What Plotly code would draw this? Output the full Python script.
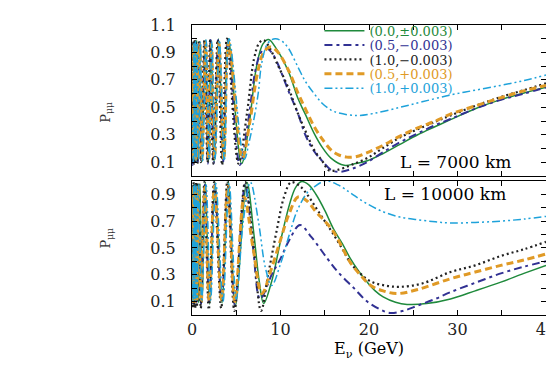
import plotly.graph_objects as go

# ---- L = 7000 km (top panel) ----
E_g7 = [0.05,0.12,0.2,0.28,0.36,0.44,0.52,0.68,0.86,1.1,1.5,1.85,2.15,2.5,3.0,3.55,4.1,5.6,6.4,7.3,8.0,8.65,9.6,10.9,12.0,12.8,13.8,14.7,15.7,17.2,18.5,19.8,21.5,23.5,25.5,27.5,29.2,32.0,34.9,37.5,40.0]
P_g7 = [0.55,0.10,0.98,0.12,0.97,0.10,0.99,0.11,0.98,0.10,0.99,0.10,0.99,0.10,1.00,0.10,1.00,0.09,0.35,0.80,0.96,0.995,0.92,0.76,0.56,0.45,0.31,0.21,0.13,0.077,0.09,0.11,0.16,0.23,0.30,0.36,0.41,0.49,0.556,0.605,0.647]

E_b7 = [0.05,0.1,0.18,0.26,0.34,0.42,0.5,0.66,0.84,1.05,1.45,1.8,2.1,2.45,2.95,3.5,4.05,5.4,6.3,7.2,7.8,8.4,9.0,9.6,10.9,12.0,12.8,13.8,14.7,15.8,16.8,18.0,19.8,21.5,23.5,25.5,27.5,29.2,32.0,34.9,37.5,40.0]
P_b7 = [0.5,0.08,0.97,0.1,0.98,0.09,0.97,0.1,0.98,0.1,0.98,0.09,0.99,0.09,0.99,0.1,0.99,0.08,0.38,0.78,0.9,0.93,0.9,0.83,0.62,0.45,0.30,0.18,0.11,0.04,0.03,0.05,0.10,0.17,0.245,0.31,0.37,0.415,0.49,0.555,0.60,0.645]

E_k7 = [0.05,0.08,0.15,0.22,0.3,0.38,0.46,0.6,0.8,1.0,1.4,1.75,2.05,2.4,2.9,3.4,3.95,5.25,6.2,7.0,7.6,8.1,8.8,9.6,10.9,12.0,12.8,13.8,14.7,15.5,16.5,18.0,19.8,21.5,23.5,25.5,27.5,29.2,32.0,34.9,37.5,40.0]
P_k7 = [0.6,0.1,0.98,0.09,0.99,0.1,0.98,0.09,0.99,0.1,0.99,0.1,0.99,0.09,0.99,0.08,1.0,0.09,0.45,0.85,0.97,0.99,0.93,0.82,0.64,0.45,0.33,0.19,0.11,0.04,0.045,0.08,0.13,0.20,0.28,0.34,0.395,0.44,0.51,0.575,0.625,0.675]

E_o7 = [0.05,0.13,0.2,0.28,0.37,0.45,0.55,0.7,0.9,1.15,1.55,1.9,2.2,2.55,3.05,3.6,4.15,5.7,6.5,7.4,8.1,8.8,9.6,10.9,12.0,12.8,13.8,14.7,15.7,16.5,17.5,18.5,19.8,21.5,23.5,25.5,27.5,29.2,32.0,34.9,37.5,40.0]
P_o7 = [0.5,0.12,0.95,0.13,0.96,0.12,0.95,0.13,0.96,0.12,0.97,0.12,0.96,0.13,0.97,0.12,0.97,0.13,0.38,0.75,0.9,0.94,0.91,0.77,0.60,0.49,0.36,0.27,0.19,0.155,0.137,0.14,0.17,0.22,0.29,0.35,0.40,0.45,0.51,0.57,0.62,0.66]

E_c7 = [0.05,0.15,0.22,0.3,0.4,0.48,0.58,0.75,0.95,1.2,1.6,1.95,2.25,2.6,3.1,3.65,4.2,5.9,6.5,7.1,7.5,7.9,8.6,9.4,10.2,10.9,12.0,12.8,13.8,14.7,15.7,16.5,18.6,20.5,23.5,26.0,29.2,32.0,34.9,37.5,40.0]
P_c7 = [0.45,0.1,0.97,0.12,0.98,0.11,0.97,0.12,0.98,0.11,0.99,0.12,0.98,0.12,0.99,0.11,1.0,0.12,0.26,0.45,0.61,0.83,0.97,1.0,0.98,0.93,0.79,0.69,0.60,0.53,0.48,0.46,0.44,0.455,0.50,0.54,0.59,0.625,0.66,0.695,0.735]

# ---- L = 10000 km (bottom panel) ----
E_g10 = [0.05,0.08,0.15,0.22,0.28,0.35,0.42,0.5,0.6,0.75,0.9,1.15,1.5,2.0,2.6,3.4,4.1,4.9,6.2,7.0,7.6,8.1,9.0,10.0,11.0,11.7,12.4,13.2,14.0,15.0,16.0,17.0,17.9,18.8,19.8,20.7,21.6,23.0,24.3,26.5,29.2,32.0,34.9,37.5,40.0]
P_g10 = [0.5,0.08,0.97,0.1,0.98,0.09,0.98,0.1,0.98,0.09,0.98,0.1,0.99,0.08,0.99,0.09,1.0,0.07,0.99,0.6,0.25,0.086,0.25,0.55,0.82,0.95,0.995,0.97,0.9,0.78,0.64,0.53,0.42,0.33,0.245,0.18,0.135,0.095,0.079,0.085,0.12,0.18,0.245,0.31,0.37]

E_b10 = [0.05,0.1,0.17,0.24,0.31,0.39,0.47,0.57,0.71,1.0,1.45,1.95,2.55,3.35,4.05,4.85,6.0,6.9,7.7,9.0,10.0,11.0,12.2,13.5,15.3,16.5,18.3,19.8,21.3,22.4,23.8,25.5,27.5,29.2,32.0,34.9,37.5,40.0]
P_b10 = [0.5,0.08,0.96,0.1,0.95,0.08,0.96,0.1,0.96,0.08,0.97,0.09,0.97,0.1,0.97,0.07,0.97,0.5,0.12,0.3,0.42,0.56,0.67,0.58,0.42,0.32,0.2,0.1,0.04,0.015,0.03,0.07,0.12,0.17,0.24,0.31,0.36,0.40]

E_k10 = [0.05,0.1,0.17,0.24,0.31,0.38,0.46,0.56,0.7,1.0,1.4,1.9,2.5,3.3,4.0,4.8,6.0,6.9,7.8,8.6,9.6,10.4,11.2,12.2,13.0,14.0,15.0,16.0,17.0,17.9,19.0,20.2,21.8,23.5,26.0,29.2,32.0,34.9,37.5,40.0]
P_k10 = [0.6,0.05,0.99,0.06,0.98,0.05,0.99,0.06,0.99,0.05,0.99,0.04,0.99,0.05,1.0,0.03,0.99,0.55,0.03,0.3,0.64,0.88,0.99,0.96,0.9,0.8,0.7,0.6,0.49,0.39,0.31,0.25,0.22,0.21,0.235,0.32,0.37,0.44,0.49,0.545]

E_o10 = [0.05,0.11,0.18,0.25,0.32,0.4,0.48,0.58,0.72,1.05,1.45,1.95,2.55,3.35,4.05,4.85,5.9,6.9,7.9,9.0,10.0,11.0,12.0,13.0,14.0,15.0,16.0,17.0,17.9,19.0,20.2,21.6,23.2,25.5,29.2,32.0,34.9,37.5,40.0]
P_o10 = [0.45,0.1,0.95,0.12,0.94,0.1,0.95,0.12,0.95,0.1,0.95,0.1,0.96,0.11,0.96,0.1,0.88,0.5,0.16,0.35,0.56,0.76,0.88,0.85,0.77,0.70,0.62,0.50,0.39,0.30,0.22,0.18,0.16,0.19,0.27,0.32,0.37,0.41,0.455]

E_c10 = [0.05,0.12,0.19,0.26,0.33,0.41,0.5,0.6,0.75,1.1,1.6,2.1,2.7,3.5,4.2,5.0,5.8,6.6,7.5,8.3,9.0,10.0,11.0,11.9,13.0,13.7,15.1,16.5,17.9,19.5,21.6,23.5,25.5,27.5,29.2,32.0,34.9,37.5,40.0]
P_c10 = [0.55,0.1,0.97,0.12,0.97,0.1,0.96,0.12,0.97,0.1,0.97,0.11,0.98,0.1,0.98,0.12,0.7,0.99,0.7,0.35,0.22,0.38,0.6,0.78,0.91,0.95,1.0,0.97,0.91,0.84,0.77,0.73,0.71,0.695,0.686,0.69,0.70,0.715,0.735]

labels = ['(0.0,±0.003)', '(0.5,−0.003)', '(1.0,−0.003)', '(0.5,+0.003)', '(1.0,+0.003)']
colors = ['#1f8a3c', '#313193', '#222222', '#e09a26', '#1ea2da']
dashes = ['solid', '8px,4px,3px,4px', '2px,3px', '7px,4px', '8px,3px,2px,3px,2px,3px']
widths = [1.5, 2.0, 2.2, 3.0, 1.5]

top = [(E_g7, P_g7), (E_b7, P_b7), (E_k7, P_k7), (E_o7, P_o7), (E_c7, P_c7)]
bot = [(E_g10, P_g10), (E_b10, P_b10), (E_k10, P_k10), (E_o10, P_o10), (E_c10, P_c10)]

FONT = "DejaVu Serif"
fig = go.Figure()

# legend rows, paper coords (one small legend per curve so rows can sit close together)
leg_y = [0.980, 0.931, 0.881, 0.832, 0.782]
for i in range(5):
    lname = 'legend' if i == 0 else f'legend{i+1}'
    line = dict(color=colors[i], width=widths[i], dash=dashes[i], shape='spline', smoothing=1)
    fig.add_trace(go.Scatter(x=top[i][0], y=top[i][1], xaxis='x', yaxis='y', mode='lines', line=line,
                             name=f'<span style="color:{colors[i]}">{labels[i]}</span>', legend=lname))
    fig.add_trace(go.Scatter(x=bot[i][0], y=bot[i][1], xaxis='x2', yaxis='y2', mode='lines', line=line,
                             showlegend=False))

axis_common = dict(
    showline=True, linecolor='black', linewidth=1, mirror='allticks', automargin=False,
    ticks='inside', ticklen=5, tickcolor='black', showgrid=False, zeroline=False,
    tickfont=dict(family=FONT, size=16, color='#222'),
)
minor_x = dict(dtick=5, ticks='inside', ticklen=5, tickcolor='black')
minor_y = dict(dtick=0.1, ticks='inside', ticklen=5, tickcolor='black')

legends = {}
for i in range(5):
    lname = 'legend' if i == 0 else f'legend{i+1}'
    legends[lname] = dict(x=0.36, y=leg_y[i], xanchor='left', yanchor='middle',
                          bgcolor='rgba(0,0,0,0)', font=dict(family=FONT, size=13),
                          itemwidth=40, tracegroupgap=0)

# the page body adds an 8px offset, so the figure is 8px smaller and margins shifted
fig.update_layout(
    template='none',
    width=546, height=380,
    margin=dict(l=184, r=8, t=13, b=73),
    plot_bgcolor='white', paper_bgcolor='white',
    font=dict(family=FONT, size=15, color='black'),
    xaxis=dict(domain=[0, 1], anchor='y', range=[0, 40], dtick=10, showticklabels=False,
               minor=minor_x, **axis_common),
    yaxis=dict(domain=[0.4796, 1.0], anchor='x', range=[0, 1.1], tick0=0.1, dtick=0.2,
               ticklabelstandoff=12, minor=minor_y, **axis_common),
    xaxis2=dict(domain=[0, 1], anchor='y2', range=[0, 40], dtick=10, minor=minor_x,
                ticklabeloverflow='allow',
                title=dict(text='E<sub>ν</sub> (GeV)', font=dict(family=FONT, size=16), standoff=4),
                **axis_common),
    yaxis2=dict(domain=[0, 0.4626], anchor='x2', range=[0, 1.0], tick0=0.1, dtick=0.2,
                ticklabelstandoff=12, minor=minor_y, **axis_common),
    **legends,
)

fig.add_annotation(text='L = 7000 km', x=29.8, y=0.1, xref='x', yref='y', showarrow=False,
                   font=dict(family=FONT, size=17, color='black'))
fig.add_annotation(text='L = 10000 km', x=28.6, y=0.9, xref='x2', yref='y2', showarrow=False,
                   font=dict(family=FONT, size=17, color='black'))
for yy in [0.7415, 0.221]:
    fig.add_annotation(text='P<sub>μμ</sub>', x=-0.272, y=yy, xref='paper', yref='paper',
                       showarrow=False, textangle=-90, font=dict(family=FONT, size=13, color='#333'))

fig.write_html("out.html")
